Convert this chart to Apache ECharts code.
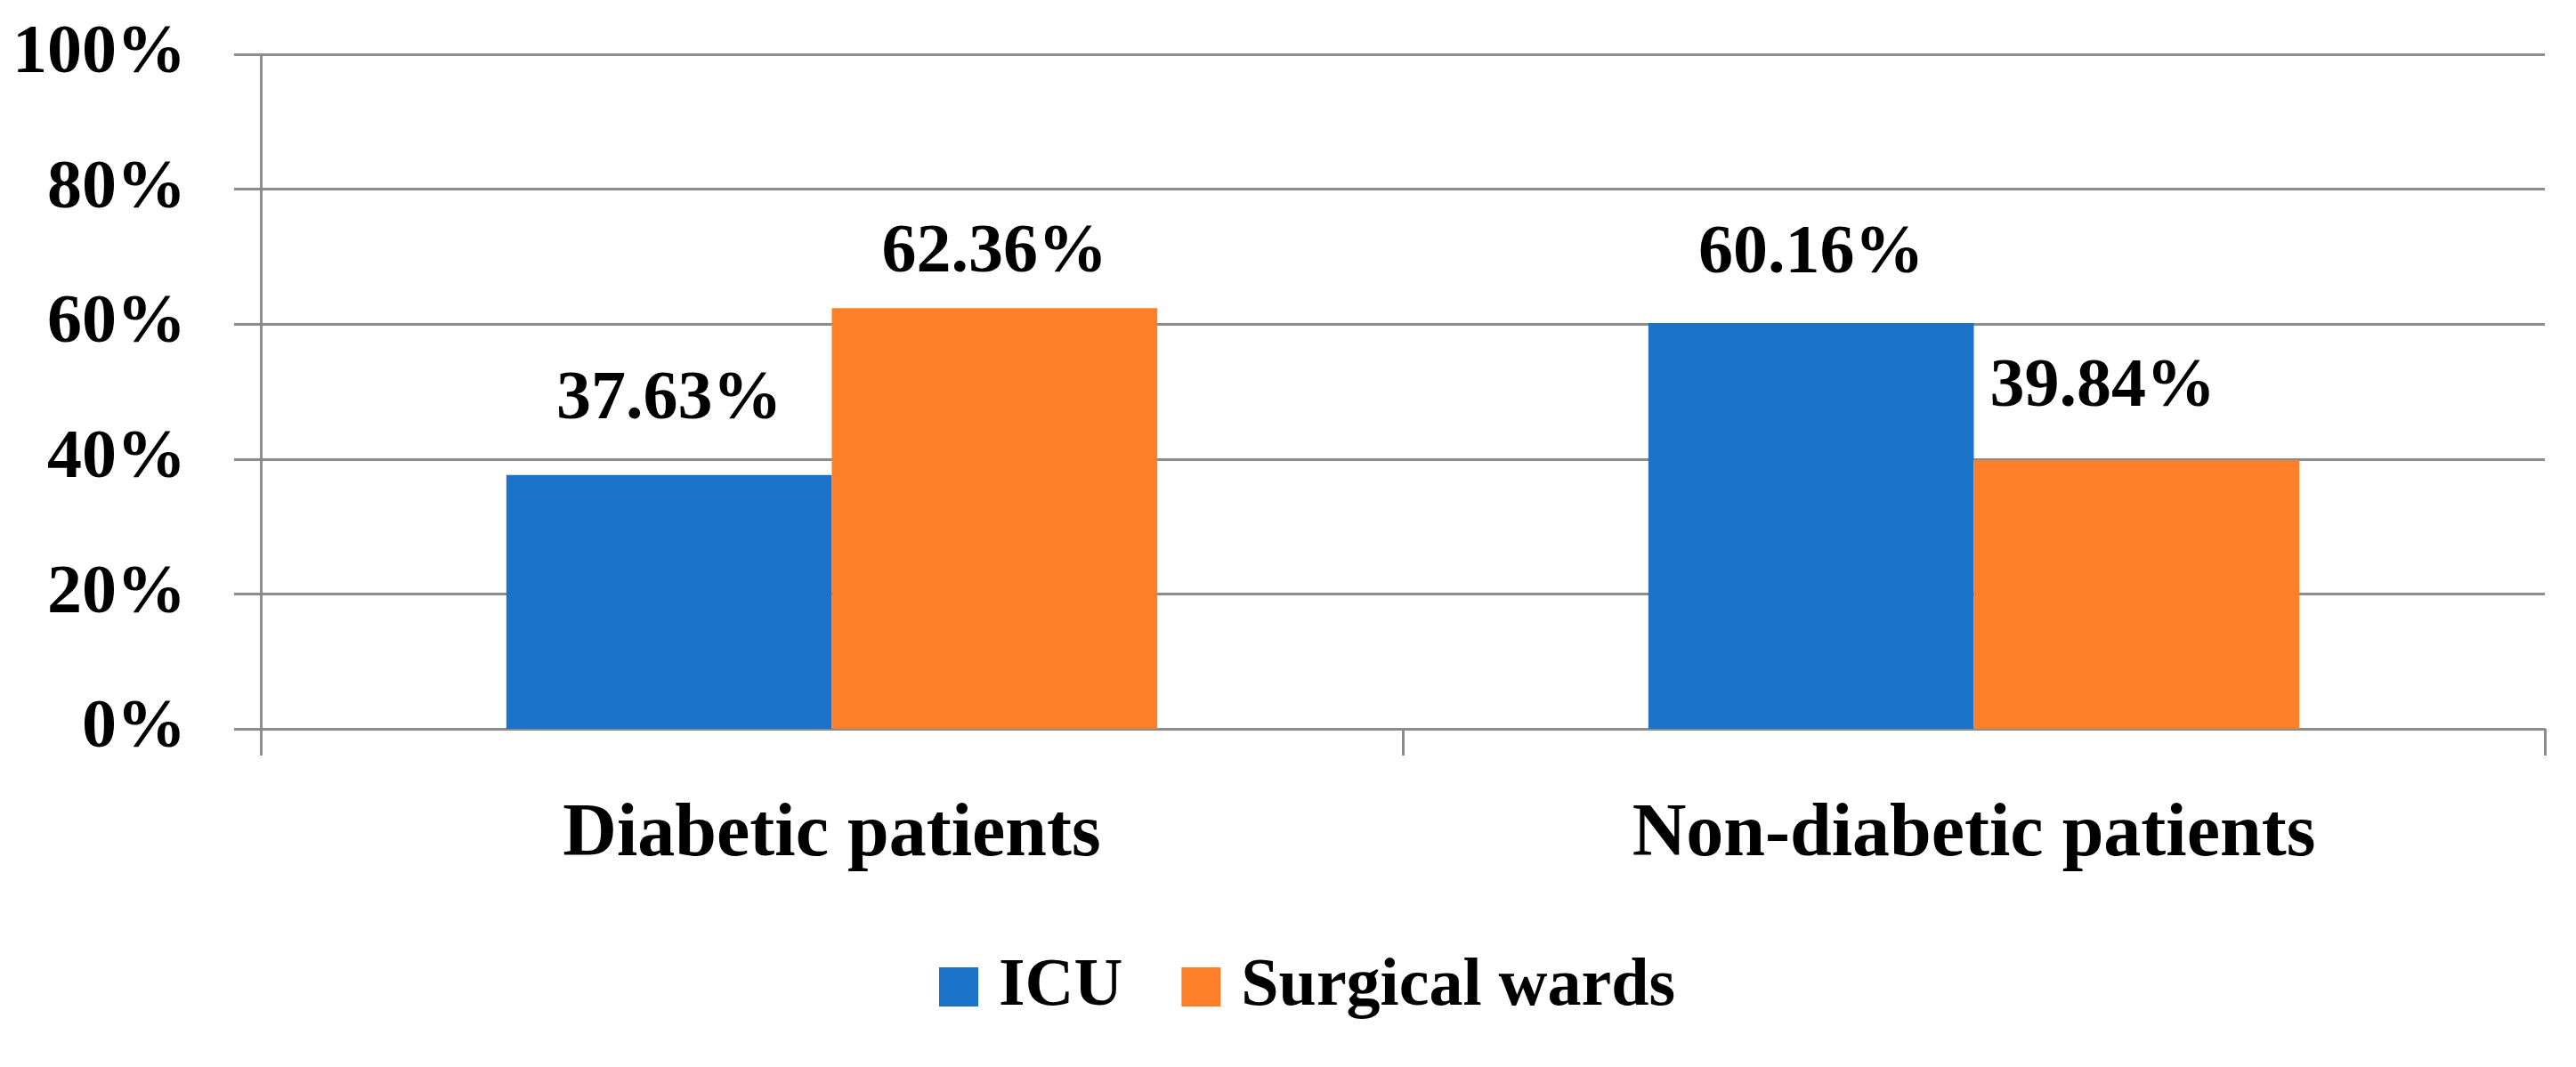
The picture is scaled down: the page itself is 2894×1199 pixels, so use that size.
<!DOCTYPE html>
<html>
<head>
<meta charset="utf-8">
<script src="https://cdn.jsdelivr.net/npm/echarts@6/dist/echarts.min.js"></script>
<style>
html,body{margin:0;padding:0;background:#fff;}
#chart{width:2894px;height:1199px;}
</style>
</head>
<body>
<div id="chart"></div>
<script>
var categories = ['Diabetic patients', 'Non-diabetic patients'];
var seriesNames = ['ICU', 'Surgical wards'];
var icuValues = [37.63, 60.16];
var surgicalValues = [62.36, 39.84];
var yTicks = [0, 20, 40, 60, 80, 100];

var FONT = '"Liberation Serif", "Times New Roman", serif';
var GRID_COLOR = '#8c8c8c';

function labelFmt(p) { return p.value.toFixed(2) + '%'; }

var chart = echarts.init(document.getElementById('chart'));
chart.setOption({
  backgroundColor: '#ffffff',
  animation: false,
  grid: { left: 293, right: 35, top: 61, bottom: 380, containLabel: false },
  legend: {
    data: seriesNames,
    left: 1055,
    top: 1071,
    padding: 0,
    icon: 'rect',
    itemWidth: 44,
    itemHeight: 44,
    itemGap: 66,
    textStyle: { fontFamily: FONT, fontWeight: 'bold', fontSize: 76, color: '#000', padding: [0, 0, 0, 18] }
  },
  xAxis: {
    type: 'category',
    data: categories,
    boundaryGap: true,
    axisLine: { lineStyle: { color: GRID_COLOR, width: 3 } },
    axisTick: { show: true, alignWithLabel: false, length: 30, lineStyle: { color: GRID_COLOR, width: 3 } },
    axisLabel: { fontFamily: FONT, fontWeight: 'bold', fontSize: 84, color: '#000', margin: 78 }
  },
  yAxis: {
    type: 'value',
    min: yTicks[0],
    max: yTicks[yTicks.length - 1],
    interval: 20,
    axisLine: { show: true, lineStyle: { color: GRID_COLOR, width: 3 } },
    axisTick: { show: true, length: 30, lineStyle: { color: GRID_COLOR, width: 3 } },
    splitLine: { show: true, lineStyle: { color: GRID_COLOR, width: 3 } },
    axisLabel: {
      fontFamily: FONT, fontWeight: 'bold', fontSize: 78, color: '#000', margin: 84,
      formatter: function (v) { return v + '%'; }
    }
  },
  series: [
    {
      name: seriesNames[0],
      type: 'bar',
      data: icuValues.map(function (v, i) {
        return { value: v, label: { distance: i === 0 ? 45 : 38 } };
      }),
      barGap: '0%',
      barCategoryGap: '43%',
      itemStyle: { color: '#1a73c8' },
      label: {
        show: true, position: 'top', distance: 45,
        fontFamily: FONT, fontWeight: 'bold', fontSize: 78, color: '#000',
        formatter: labelFmt
      }
    },
    {
      name: seriesNames[1],
      type: 'bar',
      data: surgicalValues.map(function (v, i) {
        return i === 1
          ? { value: v, label: { distance: 42, offset: [-38, 0] } }
          : { value: v, label: { distance: 22 } };
      }),
      barGap: '0%',
      barCategoryGap: '43%',
      itemStyle: { color: '#fe7f2a' },
      label: {
        show: true, position: 'top', distance: 40,
        fontFamily: FONT, fontWeight: 'bold', fontSize: 78, color: '#000',
        formatter: labelFmt
      }
    }
  ]
});
</script>
</body>
</html>
